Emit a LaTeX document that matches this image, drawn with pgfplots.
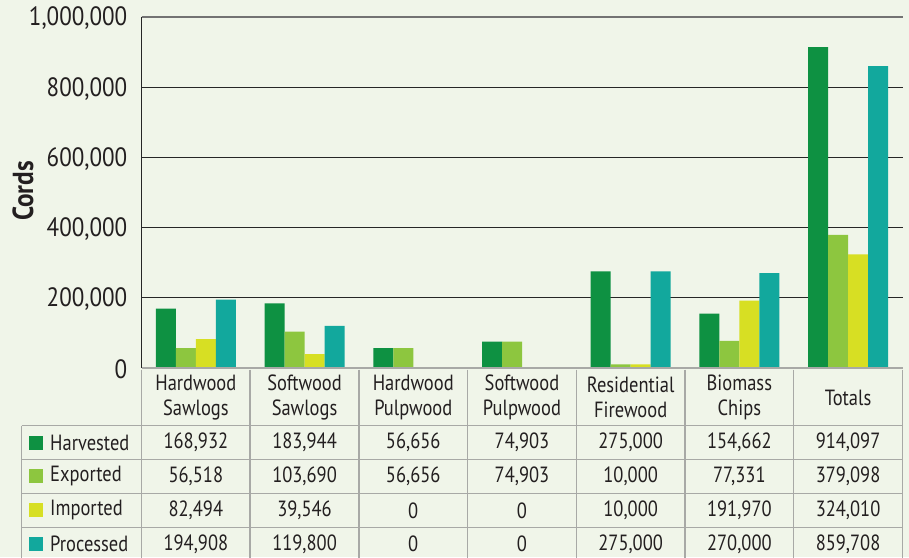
\documentclass[border=0pt]{standalone}
\usepackage{fontspec}
\setmainfont{PT Sans}[FakeStretch=0.87]
\newfontfamily\tabfont{PT Sans}[FakeStretch=0.84]
\usepackage{pgfplots}
\pgfplotsset{compat=1.18}
\definecolor{bg}{HTML}{F0F5E9}
\definecolor{harv}{HTML}{0E9142}
\definecolor{expo}{HTML}{8DC63F}
\definecolor{impo}{HTML}{D7DF23}
\definecolor{proc}{HTML}{12A89D}
\definecolor{tline}{HTML}{A8A9A6}
\definecolor{txt}{HTML}{231F20}
\begin{document}
\begin{tikzpicture}[x=1pt,y=1pt]
\fill[bg] (0,0) rectangle (909,557);
\useasboundingbox (0,0) rectangle (909,557);
\begin{axis}[
  at={(141.5pt,189pt)}, anchor=south west,
  scale only axis, width=761pt, height=351pt,
  xmin=-0.5, xmax=6.5, ymin=0, ymax=1000000,
  xtick=\empty,
  ytick={0,200000,400000,600000,800000,1000000},
  scaled y ticks=false,
  /pgf/number format/fixed,
  /pgf/number format/1000 sep={,},
  /pgf/number format/assume math mode=true,
  yticklabel style={anchor=east, inner sep=0pt, xshift=-14pt, yshift=-1.5pt, font=\fontsize{26.5}{26.5}\selectfont, text=txt},
  major tick length=0pt,
  ymajorgrids, grid style={black!85, line width=1.1pt},
  axis lines*=left,
  x axis line style={-, draw=none},
  y axis line style={-, black!85, line width=1.3pt},
  ybar=0pt, bar width=20pt,
  clip=false,
]
\addplot[fill=harv, draw=none] coordinates {(0,168932) (1,183944) (2,56656) (3,74903) (4,275000) (5,154662) (6,914097)};
\addplot[fill=expo, draw=none] coordinates {(0,56518) (1,103690) (2,56656) (3,74903) (4,10000) (5,77331) (6,379098)};
\addplot[fill=impo, draw=none] coordinates {(0,82494) (1,39546) (2,0) (3,0) (4,10000) (5,191970) (6,324010)};
\addplot[fill=proc, draw=none] coordinates {(0,194908) (1,119800) (2,0) (3,0) (4,275000) (5,270000) (6,859708)};
\draw[black!55, line width=1.3pt] (rel axis cs:0,1) -- (rel axis cs:1,1);
\draw[tline, line width=2.2pt] (rel axis cs:0,0) -- (rel axis cs:1,0);
\end{axis}
\node[rotate=90, font=\bfseries\fontsize{29}{29}\selectfont, text=txt, inner sep=0pt] at (23,366) {Cords};
% table lines
\foreach \k in {0,...,7} {
  \draw[tline, line width=1.5pt] ({141.5+108.7*\k},187.5) -- ({141.5+108.7*\k},-5);
}
\draw[tline, line width=1.5pt] (21.7,131.3) -- (21.7,-5);
\foreach \yy in {131.3,97.7,63.7,29.7} {
  \draw[tline, line width=1.5pt] (21.7,\yy) -- (902.4,\yy);
}
% header
\foreach \lab [count=\i from 0] in {Hardwood\\Sawlogs, Softwood\\Sawlogs, Hardwood\\Pulpwood, Softwood\\Pulpwood, Residential\\Firewood, Biomass\\Chips, Totals} {
  \node[align=center, font=\tabfont\fontsize{22}{25}\selectfont, text=txt, inner sep=0pt] at ({141.5+108.7*(\i+0.5)},159.5) {\lab};
}
% legend column
\foreach \nm/\col/\yy in {Harvested/harv/114.5, Exported/expo/80.7, Imported/impo/46.7, Processed/proc/13} {
  \fill[\col] (29,\yy-7) rectangle (43,\yy+7);
  \node[anchor=west, font=\tabfont\fontsize{22}{22}\selectfont, text=txt, inner sep=0pt] at (50,\yy) {\nm};
}
% values
\foreach \a/\b/\c/\d/\e/\f/\g/\yy in {
  168{,}932/183{,}944/56{,}656/74{,}903/275{,}000/154{,}662/914{,}097/114.5,
  56{,}518/103{,}690/56{,}656/74{,}903/10{,}000/77{,}331/379{,}098/80.7,
  82{,}494/39{,}546/0/0/10{,}000/191{,}970/324{,}010/46.7,
  194{,}908/119{,}800/0/0/275{,}000/270{,}000/859{,}708/13} {
  \foreach \v [count=\i from 0] in {\a,\b,\c,\d,\e,\f,\g} {
    \node[font=\tabfont\fontsize{22}{22}\selectfont, text=txt, inner sep=0pt] at ({141.5+108.7*(\i+0.5)},\yy) {\v};
  }
}
\end{tikzpicture}
\end{document}
